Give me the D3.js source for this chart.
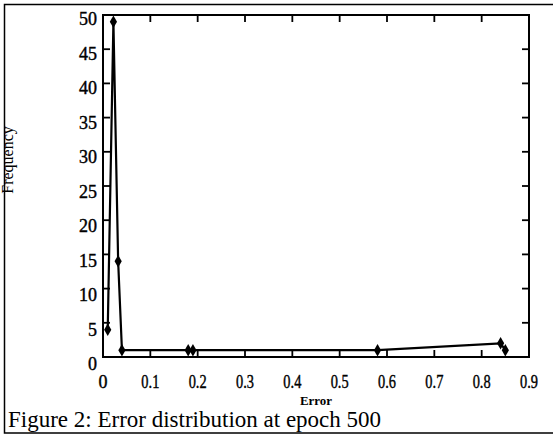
<!DOCTYPE html>
<html>
<head>
<meta charset="utf-8">
<script src="https://cdn.jsdelivr.net/npm/d3@7"></script>
<style>
  body { margin: 0; background: #fff; }
  text { font-family: "Liberation Serif", "Times New Roman", serif; fill: #000; }
</style>
</head>
<body>
<svg id="chart" width="553" height="436"></svg>
<script>
// values
var errors = [0.01, 0.022, 0.032, 0.04, 0.18, 0.19, 0.58, 0.84, 0.85];
var freqs  = [4, 49, 14, 1, 1, 1, 1, 2, 1];
var xTicks = [0, 0.1, 0.2, 0.3, 0.4, 0.5, 0.6, 0.7, 0.8, 0.9];
var yTicks = [0, 5, 10, 15, 20, 25, 30, 35, 40, 45, 50];
var xTickLabels = ["0", "0.1", "0.2", "0.3", "0.4", "0.5", "0.6", "0.7", "0.8", "0.9"];

var svg = d3.select("#chart");

var box = {left: 103, right: 529, top: 15, bottom: 357};

var x = d3.scaleLinear().domain([0, 0.9]).range([box.left, box.right]);
var y = d3.scaleLinear().domain([0, 50]).range([box.bottom, box.top]);

// outer figure frame (right edge runs off the page)
svg.append("path")
    .attr("d", "M600,4.5 H4.5 V433 H600")
    .attr("fill", "none")
    .attr("stroke", "#000")
    .attr("stroke-width", 1.5);

// plot box
svg.append("rect")
    .attr("x", box.left).attr("y", box.top)
    .attr("width", box.right - box.left)
    .attr("height", box.bottom - box.top)
    .attr("fill", "none")
    .attr("stroke", "#000")
    .attr("stroke-width", 2);

// inward ticks on all four sides
var tickLen = 7;
var tk = svg.append("g").attr("stroke", "#000").attr("stroke-width", 1.8);
xTicks.slice(1, -1).forEach(function(t) {
    tk.append("line").attr("x1", x(t)).attr("x2", x(t))
        .attr("y1", box.bottom).attr("y2", box.bottom - tickLen);
    tk.append("line").attr("x1", x(t)).attr("x2", x(t))
        .attr("y1", box.top).attr("y2", box.top + tickLen);
});
yTicks.slice(1, -1).forEach(function(t) {
    tk.append("line").attr("x1", box.left).attr("x2", box.left + tickLen)
        .attr("y1", y(t)).attr("y2", y(t));
    tk.append("line").attr("x1", box.right).attr("x2", box.right - tickLen)
        .attr("y1", y(t)).attr("y2", y(t));
});

// tick labels
svg.append("g").selectAll("text")
    .data(xTicks)
    .enter().append("text")
    .attr("x", function(d) { return x(d); })
    .attr("y", 388)
    .attr("text-anchor", "middle")
    .attr("font-size", 18)
    .attr("stroke", "#000").attr("stroke-width", 0.4)
    .attr("textLength", function(d, i) { return xTickLabels[i].length > 1 ? 18 : null; })
    .attr("lengthAdjust", "spacingAndGlyphs")
    .text(function(d, i) { return xTickLabels[i]; });

svg.append("g").selectAll("text")
    .data(yTicks)
    .enter().append("text")
    .attr("x", 97)
    .attr("y", function(d) { return y(d) + 13 - d * 0.06; })
    .attr("text-anchor", "end")
    .attr("font-size", 18)
    .attr("stroke", "#000").attr("stroke-width", 0.4)
    .text(function(d) { return d; });

// axis titles
svg.append("text")
    .attr("x", (box.left + box.right) / 2)
    .attr("y", 405)
    .attr("text-anchor", "middle")
    .attr("font-size", 12)
    .attr("font-weight", "bold")
    .attr("textLength", 32)
    .attr("lengthAdjust", "spacingAndGlyphs")
    .text("Error");

svg.append("text")
    .attr("transform", "translate(13,160) rotate(-90)")
    .attr("text-anchor", "middle")
    .attr("font-size", 16)
    .text("Frequency");

// data line and markers
var pts = errors.map(function(e, i) { return [e, freqs[i]]; });

var line = d3.line()
    .x(function(d) { return x(d[0]); })
    .y(function(d) { return y(d[1]); });

svg.append("path")
    .datum(pts)
    .attr("d", line)
    .attr("fill", "none")
    .attr("stroke", "#000")
    .attr("stroke-width", 2.2)
    .attr("stroke-linejoin", "miter");

svg.append("g").selectAll("path")
    .data(pts)
    .enter().append("path")
    .attr("transform", function(d) { return "translate(" + x(d[0]) + "," + y(d[1]) + ")"; })
    .attr("d", d3.symbol().type(d3.symbolDiamond).size(45))
    .attr("fill", "#000");

// caption
svg.append("text")
    .attr("x", 8)
    .attr("y", 427)
    .attr("font-size", 23)
    .text("Figure 2: Error distribution at epoch 500");
</script>
</body>
</html>
